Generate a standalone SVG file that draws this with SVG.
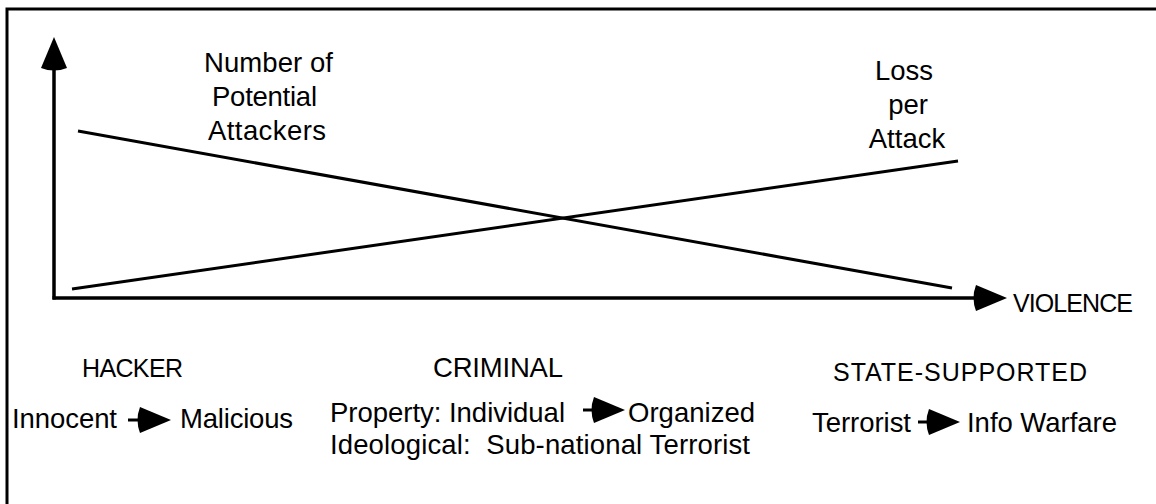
<svg xmlns="http://www.w3.org/2000/svg" xmlns:xlink="http://www.w3.org/1999/xlink" width="1156" height="504" viewBox="0 0 1156 504">
  <style>
    .lbl { font-family: "Liberation Sans", Arial, sans-serif; font-size: 27.5px; fill: #000; white-space: pre; }
    .cap { font-size: 25px; }
    .mid { text-anchor: middle; }
    .ln { stroke: #000; stroke-width: 3.5; fill: none; }
    .thin { stroke: #000; stroke-width: 3; fill: none; }
  </style>
  <defs>
    <!-- filled arrowhead, tip at the origin, pointing along +x -->
    <path id="head" d="M0,0 L-31,-13 Q-36,0 -31,13 Z" fill="#000"/>
  </defs>
  <rect width="1156" height="504" fill="#fff"/>
  <!-- outer frame (top and left edges visible) -->
  <path d="M7,510 L7,9 L1170,9" class="thin"/>

  <g id="connectors">
    <!-- axes -->
    <line x1="54" y1="299.5" x2="54" y2="62" class="ln"/>
    <use xlink:href="#head" transform="translate(54,37) rotate(-90)"/>
    <line x1="52.5" y1="298" x2="985" y2="298" class="ln"/>
    <use xlink:href="#head" transform="translate(1007,298)"/>
    <!-- trend lines -->
    <line x1="78" y1="131" x2="952" y2="288" class="thin"/>
    <line x1="72" y1="289" x2="958" y2="161" class="thin"/>
    <!-- progression arrows -->
    <line x1="128" y1="420" x2="150" y2="420" class="thin"/>
    <use xlink:href="#head" transform="translate(171,420)"/>
    <line x1="583" y1="410" x2="605" y2="410" class="thin"/>
    <use xlink:href="#head" transform="translate(625,410)"/>
    <line x1="918" y1="422" x2="940" y2="422" class="thin"/>
    <use xlink:href="#head" transform="translate(960,422)"/>
  </g>

  <g id="attackers-label">
    <text class="lbl" x="204" y="72" textLength="129">Number of</text>
    <text class="lbl" x="212" y="106" textLength="105">Potential</text>
    <text class="lbl" x="208" y="140" textLength="118">Attackers</text>
  </g>
  <g id="loss-label">
    <text class="lbl mid" x="904" y="80">Loss</text>
    <text class="lbl mid" x="908" y="114">per</text>
    <text class="lbl mid" x="907" y="148">Attack</text>
  </g>
  <g id="violence-label">
    <text class="lbl cap" x="1013" y="312" textLength="120">VIOLENCE</text>
  </g>
  <g id="hacker">
    <text class="lbl cap" x="82" y="377" textLength="101">HACKER</text>
    <text class="lbl" x="12" y="428" textLength="105">Innocent</text>
    <text class="lbl" x="180" y="428" textLength="113">Malicious</text>
  </g>
  <g id="criminal">
    <text class="lbl" x="433" y="377" textLength="130">CRIMINAL</text>
    <text class="lbl" x="330" y="422" textLength="235">Property: Individual</text>
    <text class="lbl" x="628" y="422" textLength="127">Organized</text>
    <text class="lbl" x="330" y="454" textLength="420">Ideological:  Sub-national Terrorist</text>
  </g>
  <g id="state-supported">
    <text class="lbl cap" x="833" y="381" textLength="254">STATE-SUPPORTED</text>
    <text class="lbl" x="812" y="432" textLength="99">Terrorist</text>
    <text class="lbl" x="967" y="432" textLength="150">Info Warfare</text>
  </g>
</svg>
